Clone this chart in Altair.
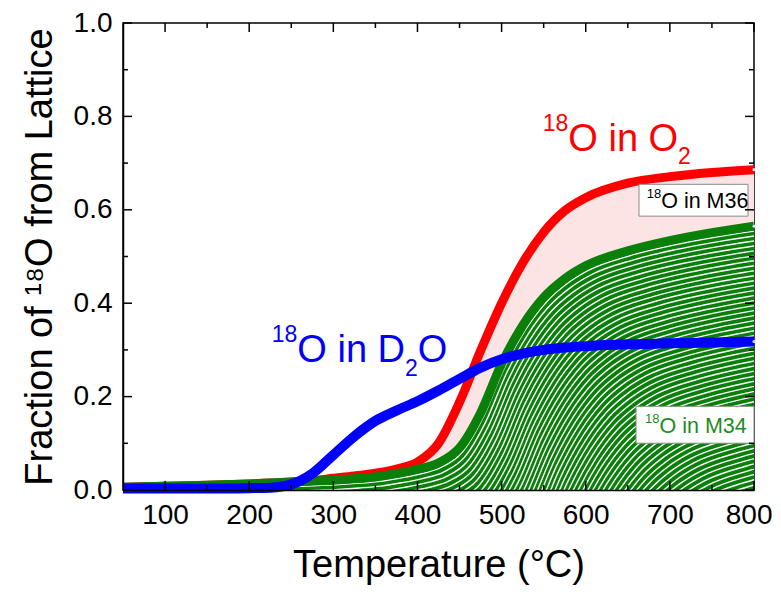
import altair as alt
import pandas as pd

# ---- data ----
temps = [50, 100, 150, 200, 225, 250, 275, 300, 325, 350, 375, 400, 425, 450,
         475, 500, 525, 550, 575, 600, 650, 700, 750, 800]
o2 = [0.006, 0.008, 0.010, 0.013, 0.015, 0.017, 0.020, 0.025, 0.030, 0.036, 0.045,
      0.060, 0.100, 0.188, 0.298, 0.400, 0.486, 0.552, 0.598, 0.626, 0.657, 0.671,
      0.680, 0.686]
m34 = [0.006, 0.008, 0.010, 0.013, 0.015, 0.017, 0.019, 0.021, 0.024, 0.028, 0.035,
       0.044, 0.058, 0.090, 0.165, 0.270, 0.352, 0.412, 0.452, 0.480, 0.512, 0.534,
       0.551, 0.565]
d2o = [0.003, 0.003, 0.003, 0.004, 0.005, 0.012, 0.035, 0.075, 0.115, 0.148, 0.170,
       0.190, 0.213, 0.238, 0.262, 0.280, 0.292, 0.300, 0.305, 0.308, 0.312, 0.314,
       0.316, 0.318]

x_major = [100, 200, 300, 400, 500, 600, 700, 800]
x_minor = [150, 250, 350, 450, 550, 650, 750]
y_major = [0.0, 0.2, 0.4, 0.6, 0.8, 1.0]
y_minor = [0.1, 0.3, 0.5, 0.7, 0.9]

# annotation anchors (data units) and text pieces (superscript / subscript parts)
anchor_x = [579.3, 257.2, 689.7, 687.7]
anchor_y = [0.726, 0.2736, 0.6028, 0.1222]
piece_text = ["18", "O in O", "2", "18", "O in D", "2", "O", "18", "O in M36", "18", "O in M34"]
piece_anchor = [0, 0, 0, 1, 1, 1, 1, 2, 2, 3, 3]
piece_size = [23, 38, 23, 23, 38, 23, 38, 13, 21.5, 13, 21.5]
piece_dx = [0, 0, 109.8, 0, 0, 107.7, 120.5, 0, 0, 0, 0]
piece_dy = [-20, 0, 13.5, -20, 0, 13.3, 0, -10, 0, -10, 0]
piece_align = ["right", "left", "left", "right", "left", "left", "left",
               "right", "left", "right", "left"]
piece_color = ["#ff0000"] * 3 + ["#0000ff"] * 4 + ["#000000"] * 2 + ["#1e8c1e"] * 2

box_x1 = [663.3, 659.8]
box_x2 = [792.9, 800]
box_y1 = [0.5864, 0.1002]
box_y2 = [0.6546, 0.1791]

# hatch pattern under the M34 curve: copies of the curve moved right/down
hatch_dx = 3.0      # deg C per stripe
hatch_dy = 0.0098   # fraction per stripe
hatch_count = 75

# ---- styling ----
FONT = "Liberation Sans"
GREEN = "#0a7f0a"
RED = "#ff0000"
BLUE = "#0000ff"
PINK = "#fde4e4"
W, H = 631, 467

df = pd.DataFrame({"T": temps, "o2": o2, "m34": m34, "d2o": d2o})
rows = []
for k in range(1, hatch_count + 1):
    for t, g in zip(temps, m34):
        rows.append({"T": t + k * hatch_dx, "y": g - k * hatch_dy, "k": k})
hatch = pd.DataFrame(rows)

xs = alt.Scale(domain=[50, 800], nice=False, zero=False)
ys = alt.Scale(domain=[0, 1], nice=False, zero=False)

AX_STYLE = dict(ticks=False, grid=False, zindex=1,
                labelFontSize=28, labelFont=FONT, labelColor="black", labelPadding=11,
                titleFontSize=38, titleFont=FONT, titleFontWeight="normal",
                titleColor="black", domainColor="black", domainWidth=1.5)
X_AX = alt.Axis(values=x_major, format="d", title="Temperature (°C)", titlePadding=17,
                labelFlush=True, labelFlushOffset=18, **AX_STYLE)
Y_AX = alt.Axis(values=y_major, format=".1f", title="Fraction of ¹⁸O from Lattice",
                titlePadding=14, labelFlush=False, **AX_STYLE)


def X(f):
    return alt.X(f, scale=xs, axis=X_AX)


def Y(f):
    return alt.Y(f, scale=ys, axis=Y_AX)


pink = alt.Chart(df).mark_area(color=PINK, interpolate="monotone").encode(
    x=X("T:Q"), y=Y("o2:Q"), y2="m34:Q")
green_area = alt.Chart(df).mark_area(color=GREEN, interpolate="monotone").encode(
    x=X("T:Q"), y=Y("m34:Q"), y2=alt.datum(0))
hatch_lines = alt.Chart(hatch).mark_line(color="white", strokeWidth=1.4,
                                         interpolate="monotone", clip=True).encode(
    x=X("T:Q"), y=Y("y:Q"), detail="k:N")
red_line = alt.Chart(df).mark_line(color=RED, strokeWidth=9, interpolate="monotone").encode(
    x=X("T:Q"), y=Y("o2:Q"))
green_line = alt.Chart(df).mark_line(color=GREEN, strokeWidth=9, interpolate="monotone").encode(
    x=X("T:Q"), y=Y("m34:Q"))
blue_line = alt.Chart(df).mark_line(color=BLUE, strokeWidth=10, interpolate="monotone").encode(
    x=X("T:Q"), y=Y("d2o:Q"))

end_df = pd.DataFrame({"T": [temps[-1]] * 3, "v": [o2[-1], m34[-1], d2o[-1]]})
ends = alt.Chart(end_df).mark_point(filled=True, color="#e8e8ff", size=10, opacity=0.9).encode(
    x=X("T:Q"), y=Y("v:Q"))

box_df = pd.DataFrame({"x1": box_x1, "x2": box_x2, "y1": box_y1, "y2": box_y2})
boxes = alt.Chart(box_df).mark_rect(fill="white", stroke="#8a8a8a", strokeWidth=1).encode(
    x=X("x1:Q"), x2="x2:Q", y=Y("y1:Q"), y2="y2:Q")

texts = []
for i, t in enumerate(piece_text):
    a = piece_anchor[i]
    pdf = pd.DataFrame({"x": [anchor_x[a]], "y": [anchor_y[a]], "t": [t]})
    texts.append(
        alt.Chart(pdf).mark_text(align=piece_align[i], baseline="alphabetic",
                                 fontSize=piece_size[i], font=FONT,
                                 color=piece_color[i], dx=piece_dx[i], dy=piece_dy[i]).encode(
            x=X("x:Q"), y=Y("y:Q"), text="t:N"))

# inward ticks on all four sides
ymaj = pd.DataFrame({"v": y_major})
ymin = pd.DataFrame({"v": y_minor})
xmaj = pd.DataFrame({"v": x_major})
xmin = pd.DataFrame({"v": x_minor})
TK = dict(color="black", strokeWidth=1.5)
ticks = [
    alt.Chart(ymaj).mark_rule(**TK).encode(y=Y("v:Q"), x=alt.value(0), x2=alt.value(9)),
    alt.Chart(ymin).mark_rule(**TK).encode(y=Y("v:Q"), x=alt.value(0), x2=alt.value(5)),
    alt.Chart(ymaj).mark_rule(**TK).encode(y=Y("v:Q"), x=alt.value(W), x2=alt.value(W - 9)),
    alt.Chart(ymin).mark_rule(**TK).encode(y=Y("v:Q"), x=alt.value(W), x2=alt.value(W - 5)),
    alt.Chart(xmaj).mark_rule(**TK).encode(x=X("v:Q"), y=alt.value(H), y2=alt.value(H - 9)),
    alt.Chart(xmin).mark_rule(**TK).encode(x=X("v:Q"), y=alt.value(H), y2=alt.value(H - 5)),
    alt.Chart(xmaj).mark_rule(**TK).encode(x=X("v:Q"), y=alt.value(0), y2=alt.value(9)),
    alt.Chart(xmin).mark_rule(**TK).encode(x=X("v:Q"), y=alt.value(0), y2=alt.value(5)),
]

chart = alt.layer(
    pink, green_area, hatch_lines, red_line, green_line, blue_line, ends,
    boxes, *texts, *ticks
).properties(
    width=W, height=H, background="white",
    autosize=alt.AutoSizeParams(type="none"),
    padding={"left": 115, "top": 15, "right": 19, "bottom": 97},
).configure_view(stroke="black", strokeWidth=1.5)

chart.save("out.html", embed_options={"renderer": "svg", "actions": False})
